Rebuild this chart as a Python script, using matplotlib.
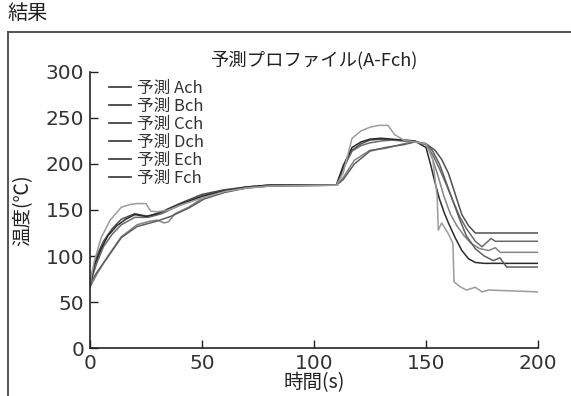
import matplotlib
matplotlib.use("Agg")
import matplotlib.pyplot as plt
from matplotlib.lines import Line2D

plt.rcParams['font.family'] = ['Noto Sans CJK JP', 'DejaVu Sans']

# 予測プロファイル (時間[s], 温度[℃])
t_a = [0, 3, 6, 10, 14, 20, 26, 32, 40, 50, 60, 70, 80, 110, 112, 117, 121, 125, 130, 135, 140, 145,
       150, 154, 157, 160, 162, 164, 166, 169, 172, 200]
y_a = [74, 100, 116, 130, 140, 146, 143, 148, 157, 167, 172, 175, 177, 177, 190, 215, 222, 226, 227, 226,
       225, 224, 222, 215, 205, 190, 175, 160, 145, 133, 125, 125]

t_b = [0, 3, 6, 10, 14, 20, 26, 32, 40, 50, 60, 70, 80, 110, 113, 117, 121, 125, 130, 135, 140, 145,
       150, 153, 156, 159, 162, 165, 168, 172, 175, 179, 181, 200]
y_b = [70, 92, 110, 124, 134, 142, 142, 146, 155, 165, 171, 175, 177, 177, 195, 214, 220, 223, 225, 226,
       226, 225, 221, 210, 195, 178, 160, 143, 130, 116, 110, 119, 116, 116]

t_c = [0, 3, 8, 14, 21, 27, 30, 33, 35, 38, 44, 51, 60, 70, 80, 110, 113, 118, 125, 132, 140, 145,
       150, 152, 155, 158, 161, 164, 167, 170, 174, 178, 181, 183, 185, 200]
y_c = [66, 80, 100, 121, 134, 138, 139, 136, 137, 146, 153, 164, 170, 174, 176, 177, 185, 204, 215, 217,
       222, 224, 222, 212, 190, 165, 145, 132, 122, 114, 108, 106, 109, 104, 104, 104]

t_d = [0, 2, 5, 8, 12, 16, 20, 25, 30, 35, 40, 50, 60, 70, 80, 110, 113, 117, 121, 125, 130, 135, 140,
       145, 150, 152, 154, 156, 158, 160, 163, 166, 169, 172, 176, 200]
y_d = [66, 90, 108, 122, 133, 140, 145, 143, 146, 151, 156, 165, 171, 175, 177, 177, 198, 218, 224, 227,
       228, 227, 226, 225, 218, 200, 180, 162, 148, 136, 120, 106, 97, 93, 92, 92]

t_e = [0, 3, 8, 14, 21, 30, 36, 44, 51, 60, 70, 80, 110, 113, 118, 125, 132, 140, 145, 150, 153, 156,
       159, 162, 165, 168, 172, 176, 180, 183, 186, 200]
y_e = [70, 82, 99, 120, 132, 138, 143, 152, 162, 169, 174, 176, 177, 183, 200, 214, 218, 221, 224, 222,
       214, 200, 180, 160, 140, 122, 108, 100, 95, 98, 88, 88]

t_f = [0, 2, 5, 9, 14, 18, 21, 25, 27, 30, 35, 40, 50, 60, 70, 80, 110, 113, 117, 121, 125, 129, 133,
       136, 140, 145, 150, 153, 155, 155.5, 157, 160, 162, 162.5, 165, 168, 172, 175, 178, 200]
y_f = [70, 95, 120, 139, 153, 156, 157, 157, 149, 148, 150, 155, 163, 170, 174, 176, 177, 190, 228, 236,
       240, 242, 242, 232, 226, 224, 222, 205, 164, 128, 136, 124, 114, 72, 67, 63, 66, 61, 63, 61]

labels = ["予測 Ach", "予測 Bch", "予測 Cch", "予測 Dch", "予測 Ech", "予測 Fch"]
colors = ["#505050", "#6a6a6a", "#858585", "#2a2a2a", "#5e5e5e", "#9c9c9c"]

x_ticks = [0, 50, 100, 150, 200]
y_ticks = [0, 50, 100, 150, 200, 250, 300]

fig = plt.figure(figsize=(5.71, 3.96), dpi=100)
ax = fig.add_axes([0.1576, 0.1212, 0.7846, 0.6970])

series = [(t_a, y_a), (t_b, y_b), (t_c, y_c), (t_d, y_d), (t_e, y_e), (t_f, y_f)]
for (t, y), lab, c in zip(series, labels, colors):
    ax.plot(t, y, color=c, lw=1.1, label=lab)

ax.set_xlim(0, 200)
ax.set_ylim(0, 300)
ax.set_xticks(x_ticks)
ax.set_yticks(y_ticks)
ax.tick_params(direction="in", length=6, width=1, pad=4, colors="#222222")
for lbl in ax.get_xticklabels() + ax.get_yticklabels():
    lbl.set_family("DejaVu Sans")
    lbl.set_fontsize(14.5)
    lbl.set_color("#333333")
for s in ["top", "right"]:
    ax.spines[s].set_visible(False)
for s in ["left", "bottom"]:
    ax.spines[s].set_linewidth(1.2)
    ax.spines[s].set_color("#222222")

ax.set_title("予測プロファイル(A-Fch)", fontsize=13.2, pad=5, color="#222222")
ax.set_xlabel("時間(s)", fontsize=14, labelpad=0, color="#222222")
ax.set_ylabel("温度(℃)", fontsize=14, labelpad=9, color="#222222")

handles = [Line2D([0], [0], color="#333333", lw=1.2) for _ in labels]
ax.legend(handles, labels, loc="upper left", bbox_to_anchor=(0.028, 0.995), frameon=False,
          prop={"size": 12}, handlelength=1.3, handletextpad=0.35, labelspacing=0.06,
          borderaxespad=0, labelcolor="#333333")

fig.text(0.014, 0.965, "結果", fontsize=14.5, va="center", ha="left", color="#222222")
fig.add_artist(Line2D([0.014, 1.0], [0.919, 0.919], transform=fig.transFigure, color="#444444", lw=1.3))
fig.add_artist(Line2D([0.014, 0.014], [0.0, 0.919], transform=fig.transFigure, color="#444444", lw=1.3))

fig.savefig("out.png", dpi=100)
